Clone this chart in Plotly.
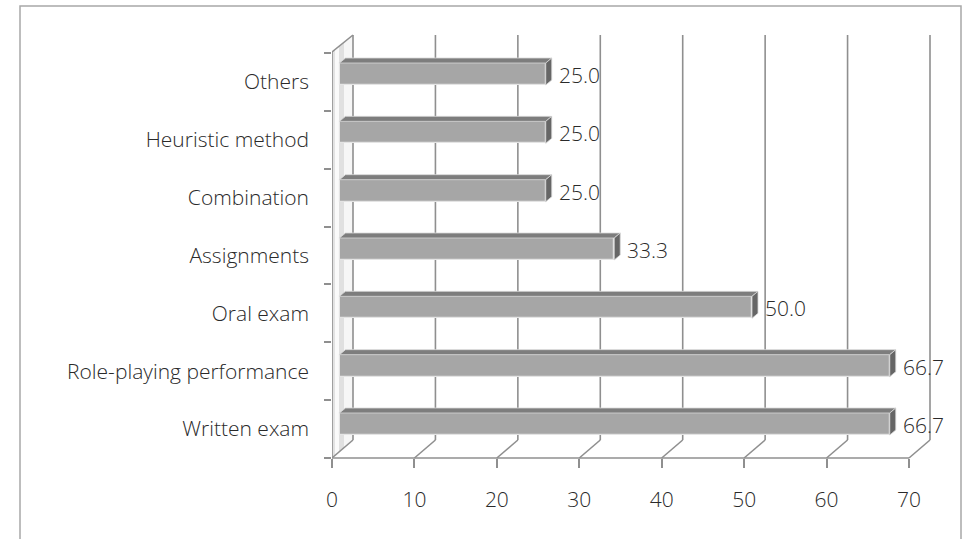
import plotly.graph_objects as go

# Teaching-method data (percent)
categories = ["Written exam", "Role-playing performance", "Oral exam", "Assignments",
              "Combination", "Heuristic method", "Others"]
values = [66.7, 66.7, 50.0, 33.3, 25.0, 25.0, 25.0]
x_ticks = [0, 10, 20, 30, 40, 50, 60, 70]

# --- geometry of the pseudo-3D box (pixels) ---
W, H = 978, 539
M_L, M_R, M_T, M_B = 332, 44, 35, 81
DEPTH_X, DEPTH_Y = 21, 18          # back wall offset from front plane
WALL_TOP = 406                      # front wall edge height above floor
BOX_TOP = 423                       # back wall height above plot bottom
BAR_DX, BAR_DY = 6, 5               # bar top/side face depth
BAR_PX_PER_UNIT = 8.25
BAR_ROW_PX = 58.33
BAR_THICK = 0.377                   # bar thickness in category units

GRID = "#8f8f8f"
TEXT = "#2a2a2a"
FONT = "Open Sans"
FSIZE = 21

idx = list(range(len(categories)))
fig = go.Figure()

# bars (front faces) on their own mid-depth axes
fig.add_trace(go.Bar(
    x=values, y=idx, orientation="h", width=BAR_THICK,
    xaxis="x2", yaxis="y2",
    marker=dict(color="#a6a6a6", line=dict(color="#e4e4e4", width=1.2)),
    hoverinfo="skip", showlegend=False,
))

shapes = []

# left wall with soft shading bands
wall_bands = [(0, 3, "#e2e2e2"), (3, 7, "#fafafa"), (7, 12, "#e0e0e0"), (12, 21, "#f6f6f6")]
for a, b, col in wall_bands:
    ya0 = a * DEPTH_Y / DEPTH_X
    yb0 = b * DEPTH_Y / DEPTH_X
    ya1 = WALL_TOP + ya0 * (BOX_TOP - WALL_TOP) / DEPTH_Y
    yb1 = WALL_TOP + yb0 * (BOX_TOP - WALL_TOP) / DEPTH_Y
    shapes.append(dict(
        type="path", xref="x", yref="paper", xsizemode="pixel", ysizemode="pixel",
        xanchor=0, yanchor=0,
        path=f"M{a},{ya0} L{b},{yb0} L{b},{yb1} L{a},{ya1} Z",
        fillcolor=col, line=dict(width=0), layer="below"))

# back wall vertical gridlines and floor diagonals
for v in x_ticks:
    shapes.append(dict(type="line", xref="x", yref="paper", xsizemode="pixel", ysizemode="pixel",
                       xanchor=v, yanchor=0, x0=DEPTH_X, x1=DEPTH_X, y0=DEPTH_Y, y1=BOX_TOP,
                       line=dict(color=GRID, width=1.6), layer="below"))
    shapes.append(dict(type="line", xref="x", yref="paper", xsizemode="pixel", ysizemode="pixel",
                       xanchor=v, yanchor=0, x0=0, x1=DEPTH_X, y0=0, y1=DEPTH_Y,
                       line=dict(color=GRID, width=1.6), layer="below"))

# left wall outline
for x0, y0, x1, y1 in [(0, 0, 0, WALL_TOP), (0, WALL_TOP, DEPTH_X, BOX_TOP)]:
    shapes.append(dict(type="line", xref="x", yref="paper", xsizemode="pixel", ysizemode="pixel",
                       xanchor=0, yanchor=0, x0=x0, x1=x1, y0=y0, y1=y1,
                       line=dict(color=GRID, width=1.6), layer="below"))

# front floor axis line
shapes.append(dict(type="line", xref="x", yref="paper", x0=x_ticks[0], x1=x_ticks[-1], y0=0, y1=0,
                   line=dict(color=GRID, width=1.6), layer="below"))

# bar top faces and end caps
dx = BAR_DX / BAR_PX_PER_UNIT
dy = BAR_DY / BAR_ROW_PX
for i, v in zip(idx, values):
    yt = i + BAR_THICK / 2
    yb = i - BAR_THICK / 2
    shapes.append(dict(type="path", xref="x2", yref="y2",
                       path=f"M0,{yt} L{dx},{yt + dy} L{v + dx},{yt + dy} L{v},{yt} Z",
                       fillcolor="#7d7d7d", line=dict(color="#d8d8d8", width=0.8), layer="above"))
    shapes.append(dict(type="path", xref="x2", yref="y2",
                       path=f"M{v},{yb} L{v + dx},{yb + dy} L{v + dx},{yt + dy} L{v},{yt} Z",
                       fillcolor="#666666", line=dict(color="#d8d8d8", width=0.8), layer="above"))

# outer chart border
pw = W - M_L - M_R
ph = H - M_T - M_B
shapes.append(dict(type="rect", xref="paper", yref="paper",
                   x0=(20 - M_L) / pw, x1=(961 - M_L) / pw,
                   y0=(H - M_B - 600) / ph, y1=(H - M_B - 6) / ph,
                   line=dict(color="#a8a8a8", width=1.5), fillcolor="rgba(0,0,0,0)", layer="below"))

# value labels at bar ends
annotations = []
for i, v in zip(idx, values):
    annotations.append(dict(x=v, y=i, xref="x2", yref="y2", text=f"{v:.1f}",
                            showarrow=False, xanchor="left", yanchor="middle",
                            xshift=BAR_DX + 5, yshift=-1,
                            font=dict(family=FONT, size=FSIZE, color=TEXT, weight=300)))

x_span = pw / ((909 - 332) / 70)
x2_lo = -(339.5 - 332) / BAR_PX_PER_UNIT
y_lo_front = -0.5
y_span_front = ph / ((458 - 53) / 7)
y2_lo = -(458 - 424) / BAR_ROW_PX

fig.update_layout(
    width=W, height=H, autosize=False,
    margin=dict(l=M_L, r=M_R, t=M_T, b=M_B, pad=0),
    paper_bgcolor="white", plot_bgcolor="rgba(0,0,0,0)",
    font=dict(family=FONT, color=TEXT),
    bargap=0,
    xaxis=dict(range=[0, x_span], tickvals=x_ticks, ticks="outside", ticklen=9, tickwidth=1.5,
               tickcolor=GRID, showgrid=False, zeroline=False, showline=False,
               ticklabelstandoff=14, tickfont=dict(family=FONT, size=FSIZE, color=TEXT, weight=300),
               fixedrange=True),
    yaxis=dict(range=[y_lo_front, y_lo_front + y_span_front], tickvals=idx, ticktext=categories,
               ticks="", showgrid=False, zeroline=False, showline=False,
               ticklabelstandoff=22, tickfont=dict(family=FONT, size=FSIZE, color=TEXT, weight=300),
               minor=dict(tickvals=[i - 0.5 for i in idx] + [idx[-1] + 0.5], ticks="outside",
                          ticklen=7, tickwidth=1.5, tickcolor=GRID, showgrid=False),
               fixedrange=True),
    xaxis2=dict(overlaying="x", range=[x2_lo, x2_lo + pw / BAR_PX_PER_UNIT], visible=False,
                anchor="y2", fixedrange=True),
    yaxis2=dict(overlaying="y", range=[y2_lo, y2_lo + ph / BAR_ROW_PX], visible=False,
                anchor="x2", fixedrange=True),
    shapes=shapes,
    annotations=annotations,
)

fig.write_html("out.html")
